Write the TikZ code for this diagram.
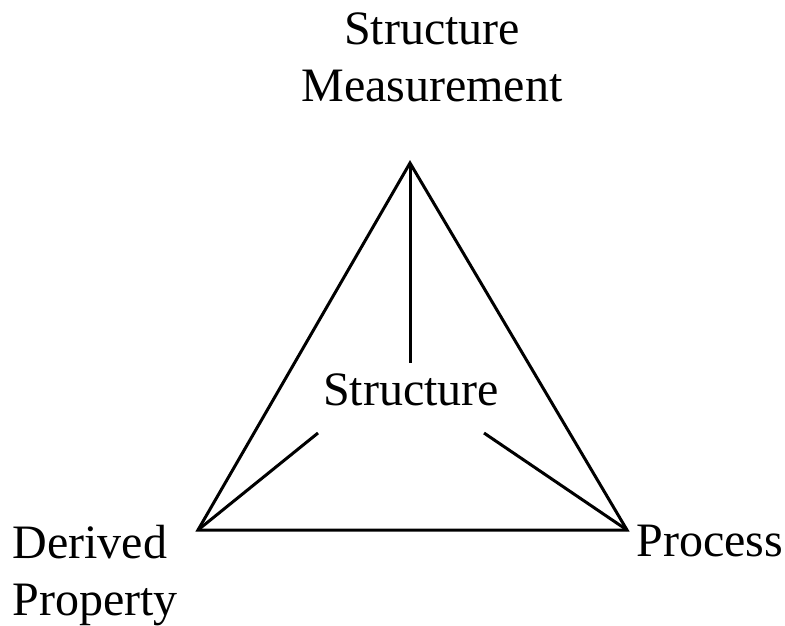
\documentclass[tikz,border=0pt]{standalone}
\usepackage{fontspec}
\setmainfont{Liberation Serif}
\begin{document}
\begin{tikzpicture}[x=1pt, y=-1pt, line width=3pt, line join=miter,
        every node/.style={font=\fontsize{48}{57}\selectfont, inner sep=0pt}]
        \useasboundingbox (0,0) rectangle (785,625);
        \coordinate (top) at (410,163);
        \coordinate (left) at (198,530);
        \coordinate (right) at (627,530);
        \coordinate (topend) at (410,363);
        \coordinate (leftend) at (318,433);
        \coordinate (rightend) at (484,433);
        \node[anchor=north, align=center] (meas) at (432,11) {Structure\\Measurement};
        \node[anchor=north] (struct) at (411,372) {Structure};
        \node[anchor=north west, align=left] (deriv) at (11,524) {Derived\\Property};
        \node[anchor=north west] (proc) at (635,524) {Process};
        \draw (top)--(left)--(right)--cycle;
        \draw (top)--(topend);
        \draw (left)--(leftend);
        \draw (right)--(rightend);
    \end{tikzpicture}
\end{document}
